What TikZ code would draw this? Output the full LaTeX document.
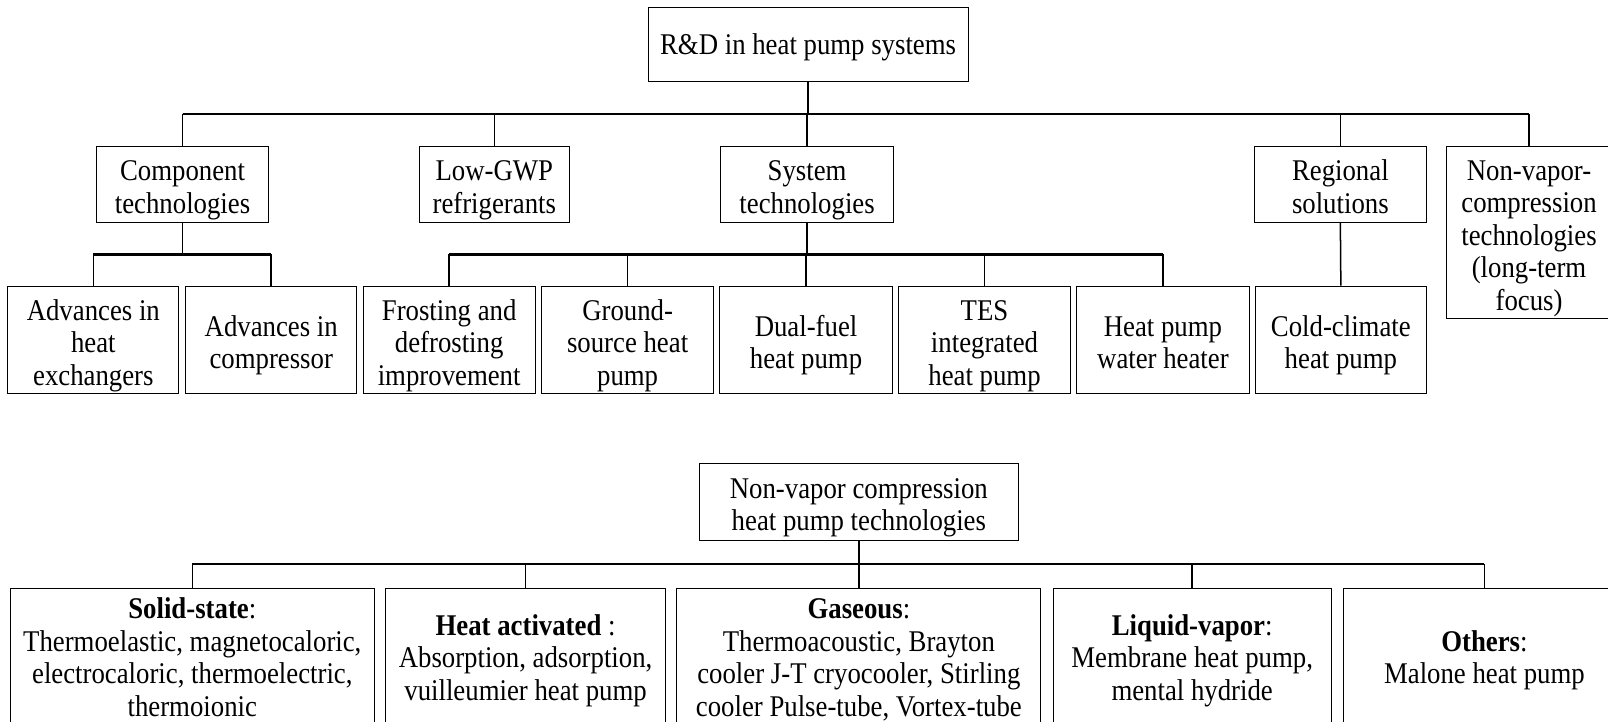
\documentclass[tikz,border=0pt]{standalone}
\usepackage{fontspec}
\setmainfont{Liberation Serif}[FakeStretch=0.89]
\newcommand\firststrut{\rule{0pt}{\sheight}}
\begin{document}
\begin{tikzpicture}[x=0.75pt,y=-0.75pt,
  sdepth/.store in=\sdepth, sdepth=5.5pt,
  sheight/.store in=\sheight, sheight=24pt,
  box/.style={draw,line width=0.7pt,align=center,inner sep=0pt,
    font=\fontsize{22}{23.8}\selectfont,
    execute at end node={\rule[-\sdepth]{0pt}{\sdepth}}},
  lowbox/.style={box,sheight=17pt,sdepth=29pt},
  sz/.style 2 args={minimum width=#1*0.75pt,minimum height=#2*0.75pt},
  conn/.style={line width=1.1pt},
  busline/.style={line width=1.9pt}]
\useasboundingbox (0,0) rectangle (1568,704);
% top tree
\node[box,sheight=21pt,sz={312}{72}] (root) at (788,43) {\firststrut R\&D in heat pump systems};
\node[box,sz={168}{74}] (comp) at (178,179.5) {\firststrut Component\\technologies};
\node[box,sz={146}{74}] (lowgwp) at (482,179.5) {\firststrut Low-GWP\\refrigerants};
\node[box,sz={168}{74}] (sys) at (787,179.5) {\firststrut System\\technologies};
\node[box,sz={168}{74}] (reg) at (1307,179.5) {\firststrut Regional\\solutions};
\node[box,sz={162}{168}] (nvc) at (1491,227) {\firststrut Non-vapor-\\compression\\technologies\\(long-term\\focus)};
\node[box,sz={167}{105}] (ahx) at (91,331.5) {\firststrut Advances in\\heat\\exchangers};
\node[box,sz={167}{105}] (acomp) at (264.5,331.5) {\firststrut Advances in\\compressor};
\node[box,sz={168}{105}] (frost) at (438,331.5) {\firststrut Frosting and\\defrosting\\improvement};
\node[box,sz={168}{105}] (ground) at (612,331.5) {\firststrut Ground-\\source heat\\pump};
\node[box,sz={168}{105}] (dual) at (786,331.5) {\firststrut Dual-fuel\\heat pump};
\node[box,sz={168}{105}] (tes) at (960,331.5) {\firststrut TES\\integrated\\heat pump};
\node[box,sz={168}{105}] (hpwh) at (1134,331.5) {\firststrut Heat pump\\water heater};
\node[box,sz={167}{105}] (cold) at (1307.5,331.5) {\firststrut Cold-climate\\heat pump};
\coordinate (busA) at (0,111);
\coordinate (busB) at (0,248);
\draw[busline] (root.south) -- (root.south |- busA);
\draw[busline] (comp.north |- busA) -- (nvc.north |- busA);
\foreach \n in {comp,lowgwp,sys,reg,nvc}
  \draw[conn] (\n.north |- busA) -- (\n.north);
\draw[conn] (comp.south) -- (comp.south |- busB);
\draw[busline] (ahx.north |- busB) -- (acomp.north |- busB);
\foreach \n in {ahx,acomp}
  \draw[conn] (\n.north |- busB) -- (\n.north);
\draw[busline] (sys.south) -- (sys.south |- busB);
\draw[busline] (frost.north |- busB) -- (hpwh.north |- busB);
\foreach \n in {frost,ground,dual,tes,hpwh}
  \draw[conn] (\n.north |- busB) -- (\n.north);
\draw[conn] (reg.south) -- (cold.north);
% bottom tree
\node[box,sz={311}{75}] (nvroot) at (837.5,489.5) {\firststrut Non-vapor compression\\heat pump technologies};
\node[lowbox,sz={355}{170}] (solid) at (187.5,659) {\firststrut\textbf{Solid-state}:\\Thermoelastic, magnetocaloric,\\electrocaloric, thermoelectric,\\thermoionic};
\node[lowbox,sz={273}{170}] (heat) at (512.5,659) {\firststrut\textbf{Heat activated} :\\Absorption, adsorption,\\vuilleumier heat pump};
\node[lowbox,sz={355}{170}] (gas) at (837.5,659) {\firststrut\textbf{Gaseous}:\\Thermoacoustic, Brayton\\cooler J-T cryocooler, Stirling\\cooler Pulse-tube, Vortex-tube};
\node[lowbox,sz={271}{170}] (liq) at (1162.5,659) {\firststrut\textbf{Liquid-vapor}:\\Membrane heat pump,\\mental hydride};
\node[lowbox,sz={275}{170}] (oth) at (1447.5,659) {\firststrut\textbf{Others}:\\Malone heat pump};
\coordinate (busC) at (0,550);
\draw[busline] (nvroot.south) -- (nvroot.south |- busC);
\draw[busline] (solid.north |- busC) -- (oth.north |- busC);
\foreach \n in {solid,heat,gas,liq,oth}
  \draw[conn] (\n.north |- busC) -- (\n.north);
\end{tikzpicture}
\end{document}
